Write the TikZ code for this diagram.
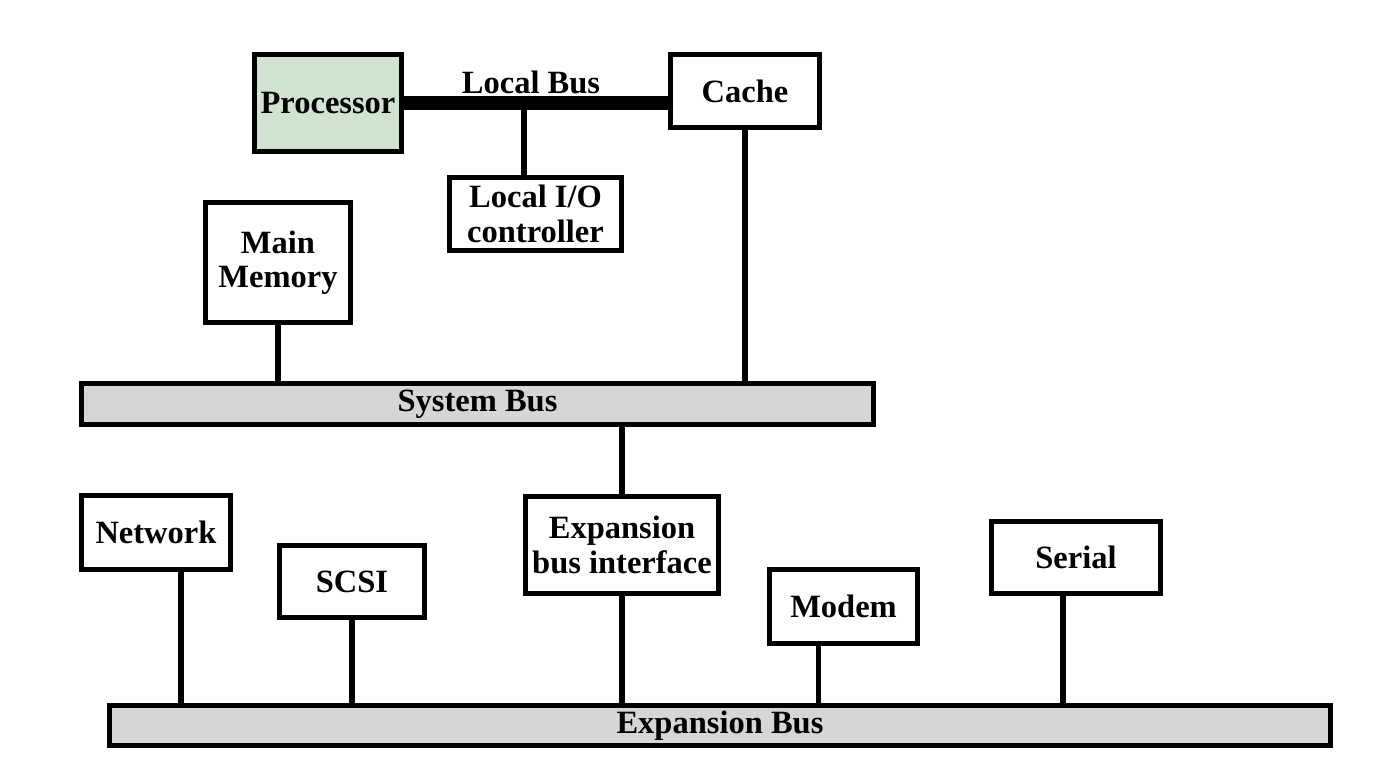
\documentclass[tikz,border=0pt]{standalone}
\usepackage{fontspec}
\setmainfont{Liberation Serif}
\definecolor{cpugreen}{RGB}{207,227,207}
\definecolor{busgray}{RGB}{214,214,214}

\begin{document}
\begin{tikzpicture}[x=0.02cm,y=-0.02cm,
    box/.style={draw,line width=3.2pt,fill=white,inner sep=0pt,align=center,
      font=\fontsize{18.5}{19.5}\selectfont\bfseries},
    bus/.style={box,fill=busgray},
    wire/.style={line width=3.2pt}]
        \useasboundingbox (0,0) rectangle (1374,768);

        % upper part
        \node[box,fill=cpugreen,minimum width=2.94cm,minimum height=1.94cm] (cpu) at (328,103) {Processor};
        \node[box,minimum width=2.98cm,minimum height=1.46cm] (cache) at (745,91) {Cache};
        \node[box,minimum width=3.44cm,minimum height=1.46cm] (localio) at (535.5,214) {Local I/O\\controller};
        \node[box,minimum width=2.9cm,minimum height=2.4cm] (mainmem) at (278,262.5) {Main\\Memory};
        \node[bus,minimum width=15.84cm,minimum height=0.82cm] (sysbus) at (477.5,404) {System Bus};

        % local bus
        \draw[line width=8.5pt] (cpu.east) -- (cpu.east -| cache.west);
        \node[font=\fontsize{18.5}{19.5}\selectfont\bfseries,anchor=south,inner sep=1pt] (lblabel) at (531,96) {Local Bus};
        \coordinate (lbtap) at (524,103);
        \draw[wire] (lbtap) -- (lbtap |- localio.north);
        \draw[wire] (cache.south) -- (cache.south |- sysbus.north);
        \draw[wire] (mainmem.south) -- (mainmem.south |- sysbus.north);

        % expansion part
        \node[box,minimum width=3.86cm,minimum height=1.94cm] (expif) at (622,545) {Expansion\\bus interface};
        \node[box,minimum width=2.98cm,minimum height=1.48cm] (network) at (156,532.5) {Network};
        \node[box,minimum width=2.9cm,minimum height=1.44cm] (scsi) at (352,581.5) {SCSI};
        \node[box,minimum width=2.96cm,minimum height=1.48cm] (modem) at (843.5,606.5) {Modem};
        \node[box,minimum width=3.38cm,minimum height=1.44cm] (serial) at (1076,557.5) {Serial};
        \node[bus,minimum width=24.42cm,minimum height=0.8cm] (expbus) at (720,725.5) {Expansion Bus};

        \draw[wire] (sysbus.south -| expif.north) -- (expif.north);
        \draw[wire] (expif.south) -- (expif.south |- expbus.north);
        \draw[wire] ([xshift=0.5cm]network.south) -- ([xshift=0.5cm]network.south |- expbus.north);
        \draw[wire] (scsi.south) -- (scsi.south |- expbus.north);
        \draw[wire] ([xshift=-0.5cm]modem.south) -- ([xshift=-0.5cm]modem.south |- expbus.north);
        \draw[wire] ([xshift=-0.26cm]serial.south) -- ([xshift=-0.26cm]serial.south |- expbus.north);
\end{tikzpicture}
\end{document}
